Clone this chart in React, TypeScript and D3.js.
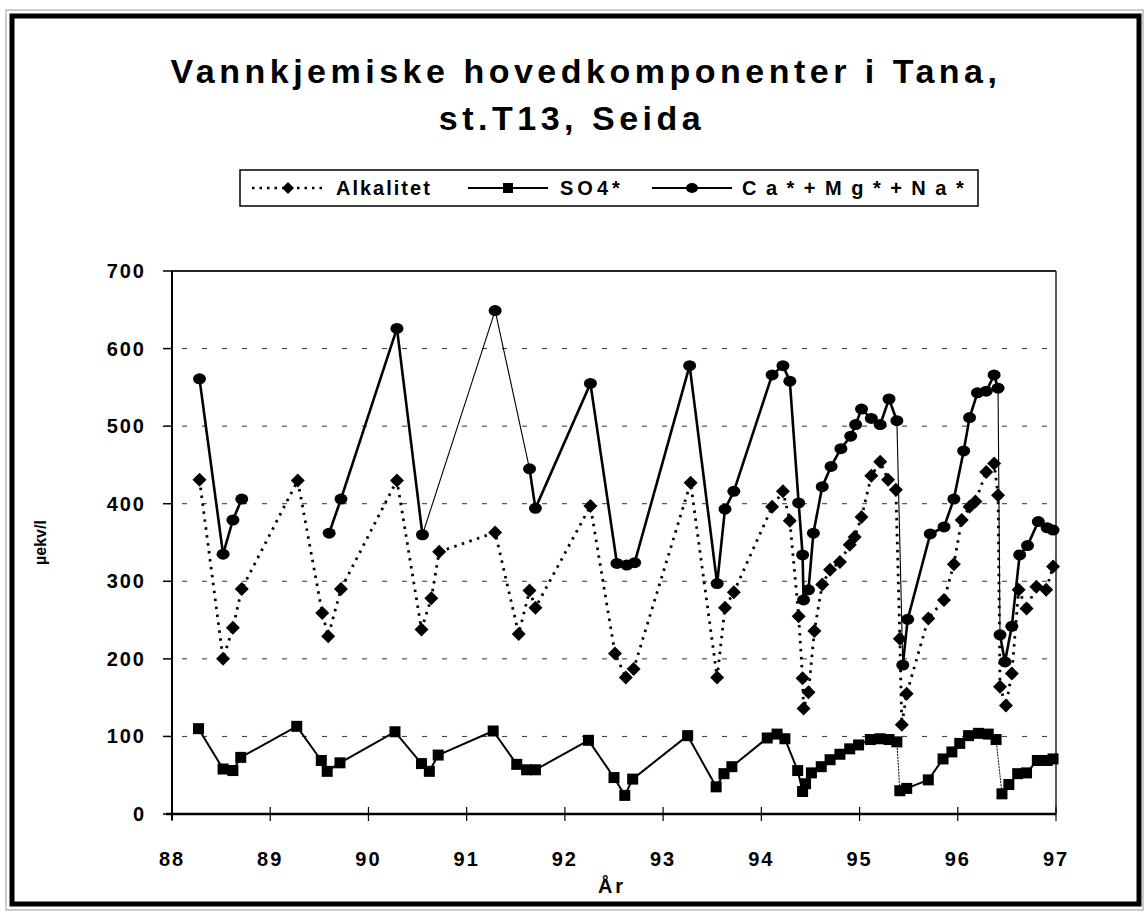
import * as d3 from "d3";

// Alkalitet (µekv/l)
const alkYears = [
  88.28, 88.52, 88.62, 88.71, 89.28, 89.53, 89.59, 89.72, 90.29, 90.54, 90.64, 90.72,
  91.29, 91.53, 91.64, 91.7, 92.26, 92.51, 92.62, 92.7, 93.28, 93.55, 93.63, 93.72,
  94.11, 94.22, 94.29, 94.38, 94.42, 94.43, 94.48, 94.54, 94.62, 94.7, 94.8, 94.9,
  94.95, 95.02, 95.12, 95.21, 95.29, 95.37, 95.41, 95.43, 95.48, 95.7, 95.86, 95.96,
  96.04, 96.12, 96.18, 96.29, 96.37, 96.41, 96.43, 96.49, 96.55, 96.62, 96.7, 96.8,
  96.9, 96.97,
];
const alkValues = [
  431, 200, 240, 290, 430, 259, 229, 290, 430, 238, 278, 338,
  363, 232, 288, 266, 397, 207, 176, 187, 427, 176, 266, 286,
  396, 416, 378, 255, 175, 136, 157, 236, 296, 315, 325, 347,
  357, 383, 436, 454, 431, 418, 226, 115, 155, 252, 276, 322,
  379, 396, 403, 441, 452, 411, 164, 140, 181, 289, 265, 293,
  289, 319,
];

// SO4*
const so4Years = [
  88.27, 88.52, 88.62, 88.7, 89.27, 89.52, 89.58, 89.71, 90.27, 90.54, 90.62, 90.71,
  91.27, 91.51, 91.61, 91.7, 92.24, 92.5, 92.61, 92.69, 93.25, 93.54, 93.62, 93.7,
  94.06, 94.16, 94.24, 94.37, 94.42, 94.45, 94.51, 94.61, 94.7, 94.8, 94.9, 94.99,
  95.11, 95.21, 95.3, 95.38, 95.41, 95.48, 95.7, 95.85, 95.94, 96.02, 96.11, 96.21,
  96.31, 96.39, 96.45, 96.52, 96.61, 96.7, 96.81, 96.91, 96.97,
];
const so4Values = [
  110, 58, 56, 73, 113, 69, 55, 66, 106, 65, 55, 76,
  107, 64, 57, 57, 95, 47, 24, 45, 101, 35, 52, 61,
  98, 103, 97, 56, 29, 39, 53, 61, 70, 77, 84, 89,
  96, 97, 96, 93, 30, 33, 44, 71, 80, 91, 101, 104,
  103, 96, 26, 38, 52, 53, 69, 69, 71,
];

// Ca*+Mg*+Na* (null = missing sample, line broken)
const caYears = [
  88.28, 88.52, 88.62, 88.71, 89.28, 89.6, 89.72, 90.29, 90.55, 91.29, 91.64, 91.7,
  92.26, 92.53, 92.63, 92.71, 93.27, 93.55, 93.63, 93.72, 94.11, 94.22, 94.29, 94.38,
  94.42, 94.43, 94.48, 94.53, 94.62, 94.71, 94.81, 94.91, 94.96, 95.02, 95.12, 95.21,
  95.3, 95.38, 95.44, 95.49, 95.72, 95.86, 95.96, 96.06, 96.12, 96.2, 96.29, 96.37,
  96.41, 96.43, 96.48, 96.55, 96.63, 96.71, 96.82, 96.91, 96.97,
];
const caValues: (number | null)[] = [
  561, 335, 379, 406, null, 362, 406, 626, 360, 649, 445, 394,
  555, 323, 321, 324, 578, 297, 393, 416, 566, 578, 558, 401,
  334, 276, 289, 362, 422, 448, 471, 487, 502, 522, 510, 502,
  535, 507, 192, 251, 361, 370, 406, 468, 511, 543, 545, 566,
  549, 231, 196, 242, 334, 346, 377, 369, 366,
];

const xTicks = [88, 89, 90, 91, 92, 93, 94, 95, 96, 97];
const yTicks = [0, 100, 200, 300, 400, 500, 600, 700];
const legendNames = ["Alkalitet", "SO4*", "Ca*+Mg*+Na*"];

const W = 1145;
const H = 920;
const FONT = "'Liberation Sans', Arial, Helvetica, sans-serif";

type Pt = { x: number; y: number | null };
const zip = (xs: number[], ys: (number | null)[]): Pt[] => xs.map((x, i) => ({ x, y: ys[i] }));

// segments that came out as hairlines in the scan (index of segment start)
const caThin = new Set([8, 9, 37, 48]);
const so4Thin = new Set([39, 49]);

export default function App() {
  const plot = { left: 172, right: 1056, top: 271, bottom: 814 };
  const x = d3.scaleLinear().domain([88, 97]).range([plot.left, plot.right]);
  const y = d3.scaleLinear().domain([0, 700]).range([plot.bottom, plot.top]);

  const line = d3
    .line<Pt>()
    .defined((d) => d.y !== null)
    .x((d) => x(d.x))
    .y((d) => y(d.y as number));

  const alk = zip(alkYears, alkValues);
  const so4 = zip(so4Years, so4Values);
  const ca = zip(caYears, caValues);

  // split a series into pairs so single segments can get their own width
  const segments = (pts: Pt[]) =>
    d3.pairs(pts).map(([a, b], i) => ({ i, d: a.y === null || b.y === null ? "" : line([a, b]) ?? "" }));

  const diamond = (cx: number, cy: number, r = 7) =>
    `M${cx},${cy - r}L${cx + r},${cy}L${cx},${cy + r}L${cx - r},${cy}Z`;

  // legend layout
  const lgY = 188;
  const lgItems = [
    { x0: 252, textX: 336, ls: 2 },
    { x0: 468, textX: 560, ls: 4 },
    { x0: 652, textX: 742, ls: 9.5 },
  ];

  return (
    <svg
      width={W}
      height={H}
      style={{ position: "absolute", left: 0, top: 0, background: "#fff" }}
      fontFamily={FONT}
    >
      <rect x={0} y={0} width={W} height={H} fill="#fff" />
      {/* outer frame */}
      <rect x={6} y={10} width={1137} height={900} fill="none" stroke="#999" strokeWidth={1} />
      <rect x={12} y={16} width={1127} height={888} fill="none" stroke="#000" strokeWidth={5} />

      {/* title */}
      <g fontWeight="bold" fontSize={34} textAnchor="middle" letterSpacing={4.5}>
        <text x={586} y={83}>Vannkjemiske hovedkomponenter i Tana,</text>
        <text x={572} y={130}>st.T13, Seida</text>
      </g>

      {/* legend */}
      <rect x={240} y={170} width={738} height={36} fill="#fff" stroke="#000" strokeWidth={1.5} />
      <g>
        <line
          x1={lgItems[0].x0}
          x2={lgItems[0].x0 + 72}
          y1={lgY}
          y2={lgY}
          stroke="#000"
          strokeWidth={2.5}
          strokeDasharray="2.5,5"
        />
        <path d={diamond(lgItems[0].x0 + 36, lgY, 6)} fill="#000" />
        <line x1={lgItems[1].x0} x2={lgItems[1].x0 + 80} y1={lgY} y2={lgY} stroke="#000" strokeWidth={2} />
        <rect x={lgItems[1].x0 + 35} y={lgY - 5} width={10} height={10} fill="#000" />
        <line x1={lgItems[2].x0} x2={lgItems[2].x0 + 80} y1={lgY} y2={lgY} stroke="#000" strokeWidth={2} />
        <ellipse cx={lgItems[2].x0 + 40} cy={lgY} rx={6} ry={5} fill="#000" />
        {legendNames.map((n, i) => (
          <text
            key={n}
            x={lgItems[i].textX}
            y={lgY + 7}
            fontSize={20}
            fontWeight="bold"
            letterSpacing={lgItems[i].ls}
          >
            {n}
          </text>
        ))}
      </g>

      {/* gridlines */}
      {yTicks
        .filter((t) => t > 0 && t < 700)
        .map((t) => (
          <line
            key={t}
            x1={plot.left}
            x2={plot.right}
            y1={y(t)}
            y2={y(t)}
            stroke="#333"
            strokeWidth={1}
            strokeDasharray="5,15"
            strokeDashoffset={-10}
          />
        ))}

      {/* plot border */}
      <line x1={plot.left} x2={plot.right} y1={plot.top} y2={plot.top} stroke="#222" strokeWidth={2} />
      <line x1={plot.right} x2={plot.right} y1={plot.top} y2={plot.bottom} stroke="#222" strokeWidth={1.5} />
      <line x1={plot.left} x2={plot.left} y1={plot.top} y2={plot.bottom + 6} stroke="#000" strokeWidth={2} />
      <line x1={plot.left - 6} x2={plot.right} y1={plot.bottom} y2={plot.bottom} stroke="#000" strokeWidth={2.5} />

      {/* y ticks + labels */}
      {yTicks.map((t) => (
        <g key={t}>
          <line x1={plot.left - 9} x2={plot.left} y1={y(t)} y2={y(t)} stroke="#000" strokeWidth={1.5} />
          <text
            x={146}
            y={y(t) + 7}
            textAnchor="end"
            fontSize={20}
            fontWeight="bold"
            letterSpacing={2}
          >
            {t}
          </text>
        </g>
      ))}

      {/* x ticks + labels */}
      {xTicks.map((t) => (
        <g key={t}>
          <line x1={x(t)} x2={x(t)} y1={plot.bottom - 7} y2={plot.bottom + 7} stroke="#000" strokeWidth={1.2} />
          <text x={x(t)} y={866} textAnchor="middle" fontSize={20} fontWeight="bold" letterSpacing={2}>
            {t}
          </text>
        </g>
      ))}

      {/* axis titles */}
      <text x={612} y={893} textAnchor="middle" fontSize={20} fontWeight="bold" letterSpacing={3}>
        År
      </text>
      <text
        transform={`translate(46, ${(plot.top + plot.bottom) / 2}) rotate(-90)`}
        textAnchor="middle"
        fontSize={16}
        fontWeight="bold"
      >
        µekv/l
      </text>

      {/* series lines */}
      <path d={line(alk) ?? ""} fill="none" stroke="#000" strokeWidth={2.8} strokeDasharray="2.5,5.5" />
      {segments(so4).map((s) => (
        <path
          key={`sl${s.i}`}
          d={s.d}
          fill="none"
          stroke="#000"
          strokeWidth={so4Thin.has(s.i) ? 1 : 2}
          strokeDasharray={so4Thin.has(s.i) ? "2,1" : undefined}
        />
      ))}
      {segments(ca).map((s) => (
        <path key={`cl${s.i}`} d={s.d} fill="none" stroke="#000" strokeWidth={caThin.has(s.i) ? 1.1 : 2.6} />
      ))}

      {/* markers */}
      {alk.map((d, i) => (
        <path key={`a${i}`} d={diamond(x(d.x), y(d.y as number), 7)} fill="#000" />
      ))}
      {so4.map((d, i) => (
        <rect key={`s${i}`} x={x(d.x) - 5.5} y={y(d.y as number) - 5.5} width={11} height={11} fill="#000" />
      ))}
      {ca
        .filter((d) => d.y !== null)
        .map((d, i) => (
          <ellipse key={`c${i}`} cx={x(d.x)} cy={y(d.y as number)} rx={6.5} ry={5.5} fill="#000" />
        ))}
    </svg>
  );
}
